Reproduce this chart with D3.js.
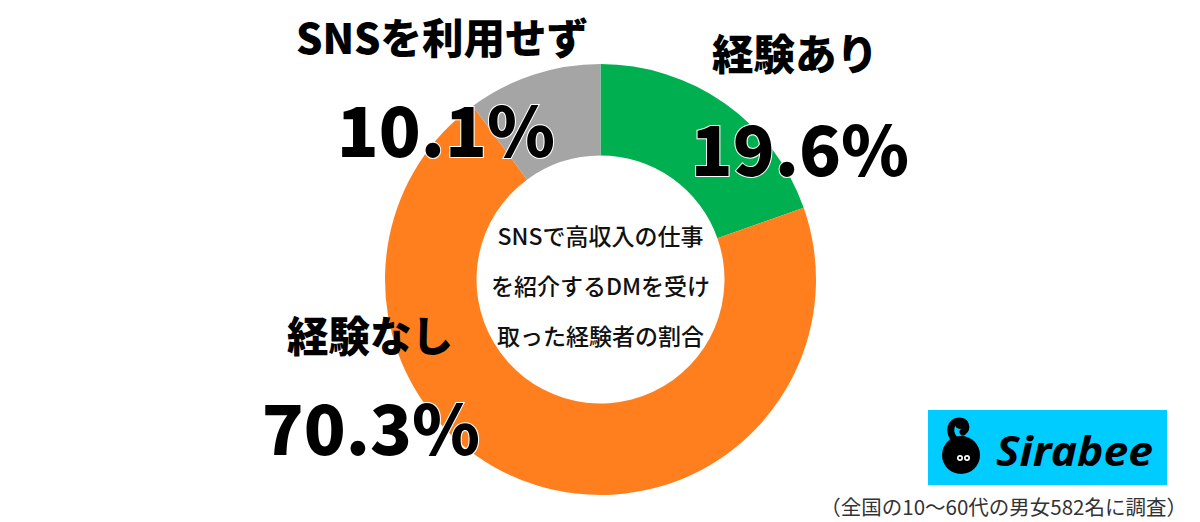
<!DOCTYPE html>
<html><head><meta charset="utf-8">
<script src="https://cdn.jsdelivr.net/npm/d3@7"></script>
<style>
html,body{margin:0;padding:0;background:#fff;}
svg{display:block;}
</style></head>
<body>
<svg id="chart" width="1200" height="522"></svg>
<script>
const categories = ["経験あり", "経験なし", "SNSを利用せず"];
const values = [19.6, 70.3, 10.1];
const valueLabels = ["19.6%", "70.3%", "10.1%"];
const colors = ["#00B050", "#FF7F1E", "#A5A5A5"];
const centerLines = ["SNSで高収入の仕事", "を紹介するDMを受け", "取った経験者の割合"];
const footnote = "（全国の10〜60代の男女582名に調査）";

// label layout (positions, not data)
const labelPos = [
  {nx: 795, ny: 70, vx: 800, vy: 176},
  {nx: 370, ny: 352, vx: 371, vy: 455},
  {nx: 442, ny: 54, vx: 446, vy: 157}
];

const svg = d3.select("#chart");
const cx = 600.5, cy = 279.5, rOuter = 215.5, rInner = 124;

const pie = d3.pie().sort(null).value(d => d)(values);
const arc = d3.arc().innerRadius(rInner).outerRadius(rOuter);

const g = svg.append("g").attr("transform", `translate(${cx},${cy})`);
g.selectAll("path").data(pie).join("path")
  .attr("d", arc)
  .attr("fill", (d, i) => colors[i]);

// center text
g.selectAll("text.center").data(centerLines).join("text")
  .attr("class", "center")
  .attr("x", 0)
  .attr("y", (d, i) => -42 + i * 50 + 7)
  .attr("text-anchor", "middle")
  .attr("font-family", "'Noto Sans CJK JP', 'Noto Sans', sans-serif")
  .attr("font-weight", 500)
  .attr("font-size", 23)
  .attr("fill", "#111")
  .text(d => d);

// category labels
svg.selectAll("text.name").data(categories).join("text")
  .attr("class", "name")
  .attr("x", (d, i) => labelPos[i].nx)
  .attr("y", (d, i) => labelPos[i].ny)
  .attr("text-anchor", "middle")
  .attr("font-family", "'Noto Sans CJK JP', sans-serif")
  .attr("font-weight", 900)
  .attr("font-size", 41.5)
  .attr("fill", "#000")
  .text(d => d);

// value labels
svg.selectAll("text.val").data(valueLabels).join("text")
  .attr("class", "val")
  .attr("x", (d, i) => labelPos[i].vx)
  .attr("y", (d, i) => labelPos[i].vy)
  .attr("text-anchor", "middle")
  .attr("font-family", "'Noto Sans CJK JP', sans-serif")
  .attr("font-weight", 900)
  .attr("font-size", 69)
  .attr("fill", "#000")
  .attr("stroke", "#fff")
  .attr("stroke-width", 2)
  .attr("paint-order", "stroke")
  .text(d => d);

// footnote
svg.append("text")
  .attr("x", 1187).attr("y", 515)
  .attr("text-anchor", "end")
  .attr("font-family", "'Noto Sans CJK JP', sans-serif")
  .attr("font-size", 20.5)
  .attr("fill", "#333")
  .text(footnote);

// Sirabee logo
const logo = svg.append("g");
logo.append("rect").attr("x", 928).attr("y", 410).attr("width", 239).attr("height", 75).attr("fill", "#00CCFF");
logo.append("circle").attr("cx", 961).attr("cy", 455).attr("r", 19).attr("fill", "#000");
logo.append("path")
  .attr("d", "M955,440 C948,432 950,421 959,421 C966,421 968,428 963,432")
  .attr("fill", "none").attr("stroke", "#000").attr("stroke-width", 7).attr("stroke-linecap", "round");
logo.append("circle").attr("cx", 960).attr("cy", 424).attr("r", 5).attr("fill", "#000");
logo.append("circle").attr("cx", 960).attr("cy", 458).attr("r", 3).attr("fill", "#fff");
logo.append("circle").attr("cx", 967).attr("cy", 458).attr("r", 3).attr("fill", "#fff");
logo.append("circle").attr("cx", 960).attr("cy", 458).attr("r", 1.3).attr("fill", "#000");
logo.append("circle").attr("cx", 967).attr("cy", 458).attr("r", 1.3).attr("fill", "#000");
logo.append("text")
  .attr("x", 996).attr("y", 466)
  .attr("font-family", "'Noto Sans', 'DejaVu Sans', sans-serif")
  .attr("font-weight", 700)
  .attr("font-style", "italic")
  .attr("font-size", 42)
  .attr("textLength", 157)
  .attr("lengthAdjust", "spacingAndGlyphs")
  .attr("fill", "#000")
  .text("Sirabee");
</script>
</body></html>
